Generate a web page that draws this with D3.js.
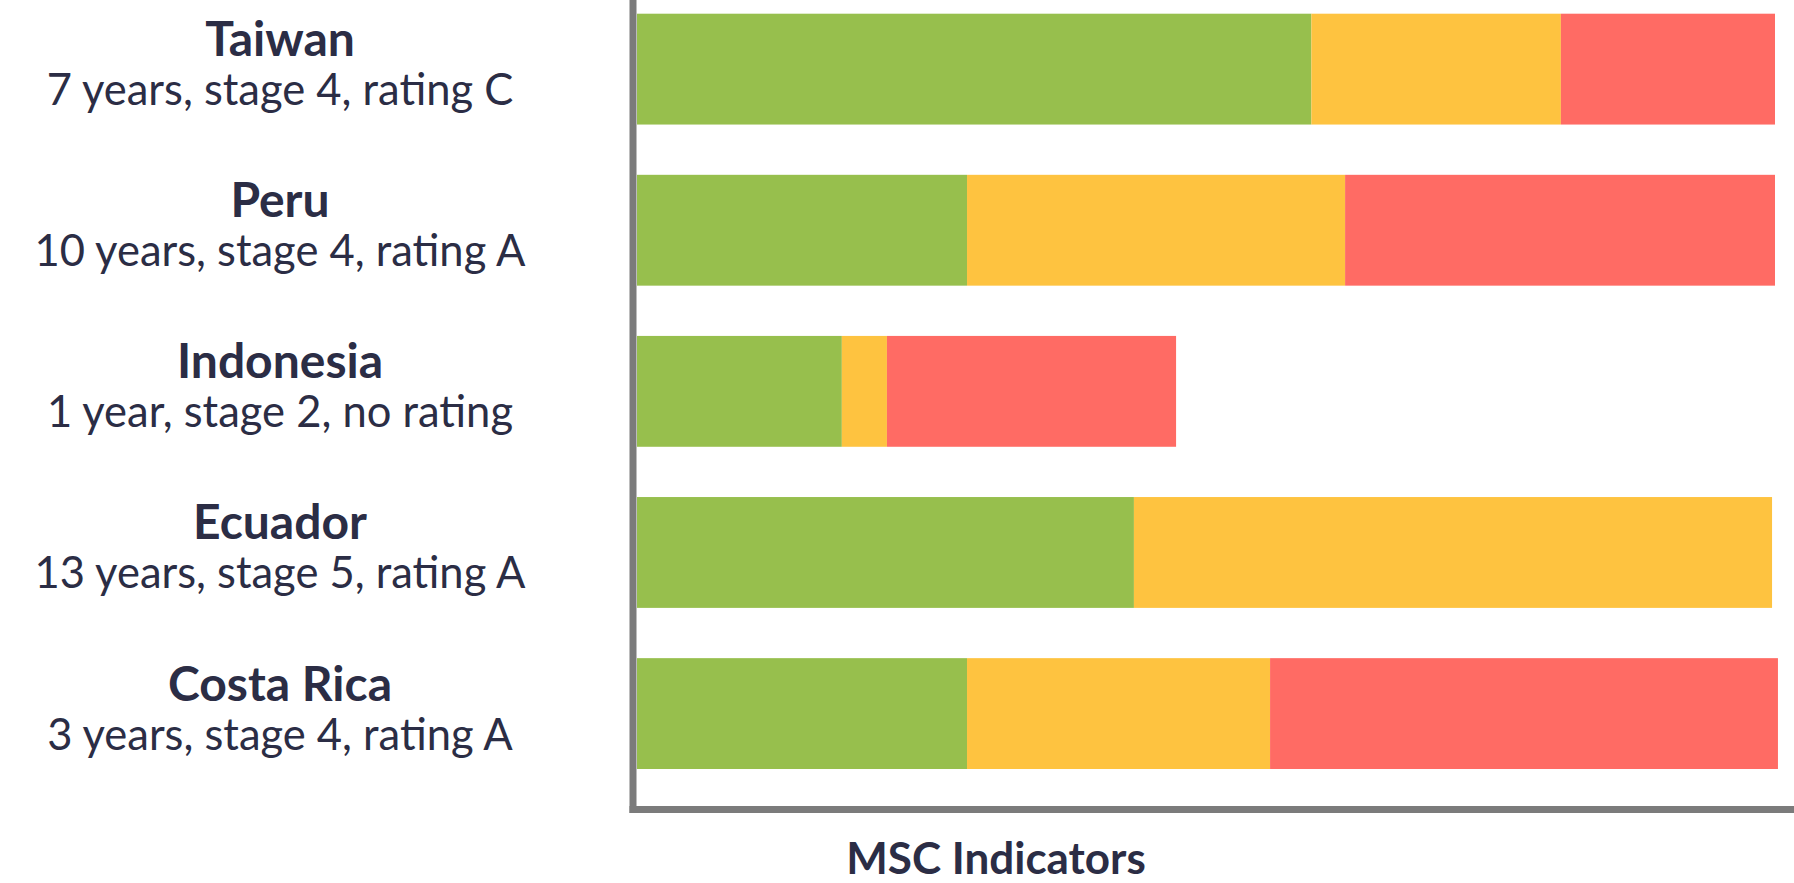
<!DOCTYPE html>
<html>
<head>
<meta charset="utf-8">
<script src="https://cdn.jsdelivr.net/npm/d3@7"></script>
<style>
  body { margin: 0; background: #fff; }
  text { font-family: Lato, "Noto Sans", sans-serif; fill: #2b2d45; }
</style>
</head>
<body>
<div id="chart"></div>
<script>
// Country names and the line under them
var countries = ["Taiwan", "Peru", "Indonesia", "Ecuador", "Costa Rica"];
var details = [
  "7 years, stage 4, rating C",
  "10 years, stage 4, rating A",
  "1 year, stage 2, no rating",
  "13 years, stage 5, rating A",
  "3 years, stage 4, rating A"
];

// MSC indicators per country (green / yellow / red)
var greenVals = [16, 7.83, 4.86, 11.79, 7.83];
var yellowVals = [5.92, 8.97, 1.07, 15.14, 7.19];
var redVals = [5.08, 10.2, 6.86, 0, 12.05];
var maxIndicators = 27;

var seriesKeys = ["green", "yellow", "red"];
var seriesColors = ["#97bf4d", "#fec340", "#ff6b64"];

var svgWidth = 1794;
var svgHeight = 883;

var margin = { left: 637, right: 19, top: 13.7, bottom: 114 };

var svg = d3.select("#chart")
  .append("svg")
  .attr("width", svgWidth)
  .attr("height", svgHeight);

// build rows for the stack
var rows = countries.map(function(c, i) {
  return { country: c, green: greenVals[i], yellow: yellowVals[i], red: redVals[i] };
});

var stack = d3.stack().keys(seriesKeys);
var layers = stack(rows);

var xScale = d3.scaleLinear()
  .domain([0, maxIndicators])
  .range([margin.left, svgWidth - margin.right]);

var yScale = d3.scaleBand()
  .domain(countries)
  .range([margin.top, svgHeight - margin.bottom])
  .paddingInner(0.312)
  .paddingOuter(0);

var color = d3.scaleOrdinal().domain(seriesKeys).range(seriesColors);

// bars
svg.append("g")
  .selectAll("g")
  .data(layers)
  .enter()
  .append("g")
  .attr("fill", d => color(d.key))
  .selectAll("rect")
  .data(d => d)
  .enter()
  .append("rect")
  .attr("x", d => xScale(d[0]))
  .attr("y", d => yScale(d.data.country))
  .attr("width", d => xScale(d[1]) - xScale(d[0]))
  .attr("height", yScale.bandwidth());

// axes frame (no ticks)
var axisColor = "#7b7b7b";
var axisY = 809.5;
svg.append("line")
  .attr("x1", margin.left - 4)
  .attr("x2", margin.left - 4)
  .attr("y1", 0)
  .attr("y2", axisY + 3.5)
  .attr("stroke", axisColor)
  .attr("stroke-width", 7);

svg.append("line")
  .attr("x1", margin.left - 7.5)
  .attr("x2", svgWidth)
  .attr("y1", axisY)
  .attr("y2", axisY)
  .attr("stroke", axisColor)
  .attr("stroke-width", 7);

// category labels
var labelX = 280;
var labels = svg.append("g");

labels.selectAll(".country")
  .data(countries)
  .enter()
  .append("text")
  .attr("class", "country")
  .attr("x", labelX)
  .attr("y", d => yScale(d) + yScale.bandwidth() / 2 - 13)
  .attr("text-anchor", "middle")
  .attr("font-size", "48px")
  .attr("font-weight", "bold")
  .text(d => d);

labels.selectAll(".detail")
  .data(countries)
  .enter()
  .append("text")
  .attr("class", "detail")
  .attr("x", labelX)
  .attr("y", (d, i) => yScale(d) + yScale.bandwidth() / 2 + 36)
  .attr("text-anchor", "middle")
  .attr("font-size", "43.5px")
  .text((d, i) => details[i]);

// x axis title
svg.append("text")
  .attr("x", 996)
  .attr("y", 874)
  .attr("text-anchor", "middle")
  .attr("font-size", "44px")
  .attr("font-weight", "bold")
  .text("MSC Indicators");
</script>
</body>
</html>
